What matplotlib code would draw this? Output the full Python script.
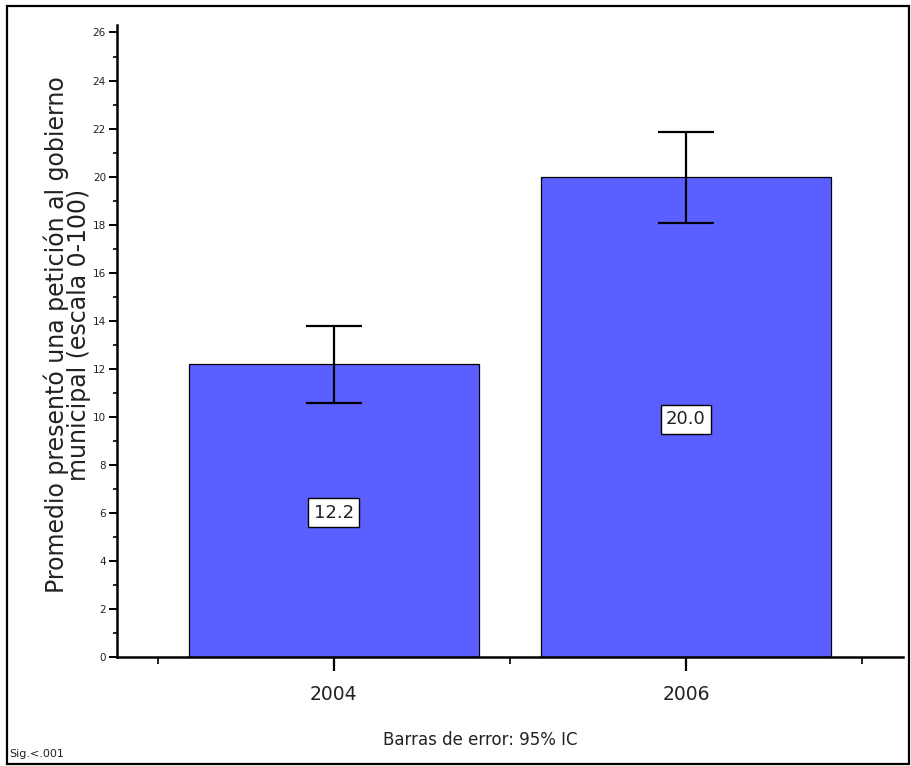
import matplotlib
matplotlib.use("Agg")
import matplotlib.pyplot as plt
from matplotlib.patches import Rectangle
from matplotlib.ticker import MultipleLocator, FixedLocator

anios = ["2004", "2006"]
promedio = [12.2, 20.0]
ic_inf = [10.58, 18.06]
ic_sup = [13.79, 21.85]
etiquetas = ["12.2", "20.0"]

color_barra = "#5b5fff"

fig = plt.figure(figsize=(9.12, 7.66), dpi=100)
ax = fig.add_axes([0.1283, 0.1423, 0.8617, 0.8247])

x = list(range(len(anios)))
err = [[m - lo for m, lo in zip(promedio, ic_inf)],
       [hi - m for m, hi in zip(promedio, ic_sup)]]

ax.bar(x, promedio, width=0.824, color=color_barra, edgecolor="black",
       linewidth=0.9, zorder=2)
ax.errorbar(x, promedio, yerr=err, fmt="none", ecolor="black",
            elinewidth=1.6, capsize=20, capthick=1.6, zorder=3)

for xi, m, t in zip(x, promedio, etiquetas):
    ax.text(xi, m / 2 - 0.1, t, ha="center", va="center", fontsize=13,
            color="#222222", zorder=4,
            bbox=dict(boxstyle="square,pad=0.3", fc="white", ec="black", lw=1))

ax.set_xlim(-0.616, 1.616)
ax.set_ylim(0, 26.3)

ax.set_xticks(x)
ax.set_xticklabels(anios, fontsize=13.5, color="#222222")
ax.xaxis.set_minor_locator(FixedLocator([-0.5, 0.5, 1.5]))
ax.tick_params(axis="x", which="major", length=10, width=1.6, pad=10)
ax.tick_params(axis="x", which="minor", length=5, width=1.2)

ax.yaxis.set_major_locator(MultipleLocator(2))
ax.yaxis.set_minor_locator(MultipleLocator(1))
ax.tick_params(axis="y", which="major", length=6, width=1.4, labelsize=7.5,
               pad=2, labelcolor="#222222")
ax.tick_params(axis="y", which="minor", length=3, width=1.2)

for s in ["top", "right"]:
    ax.spines[s].set_visible(False)
for s in ["left", "bottom"]:
    ax.spines[s].set_linewidth(1.8)

ax.set_ylabel("Promedio presentó una petición al gobierno\nmunicipal (escala 0-100)",
              fontsize=17, color="#222222", linespacing=0.92)
ax.yaxis.set_label_coords(-0.033, 0.51)

fig.text(0.527, 1 - 740 / 766, "Barras de error: 95% IC", ha="center",
         va="center", fontsize=12, color="#222222")
fig.text(0.010, 1 - 754 / 766, "Sig.<.001", ha="left", va="center",
         fontsize=8, color="#222222")

fig.patches.append(Rectangle((7 / 912, 1 - 764 / 766), 902 / 912, 758 / 766,
                             transform=fig.transFigure, fill=False,
                             ec="black", lw=1.6))

fig.savefig("out.png", dpi=100)
